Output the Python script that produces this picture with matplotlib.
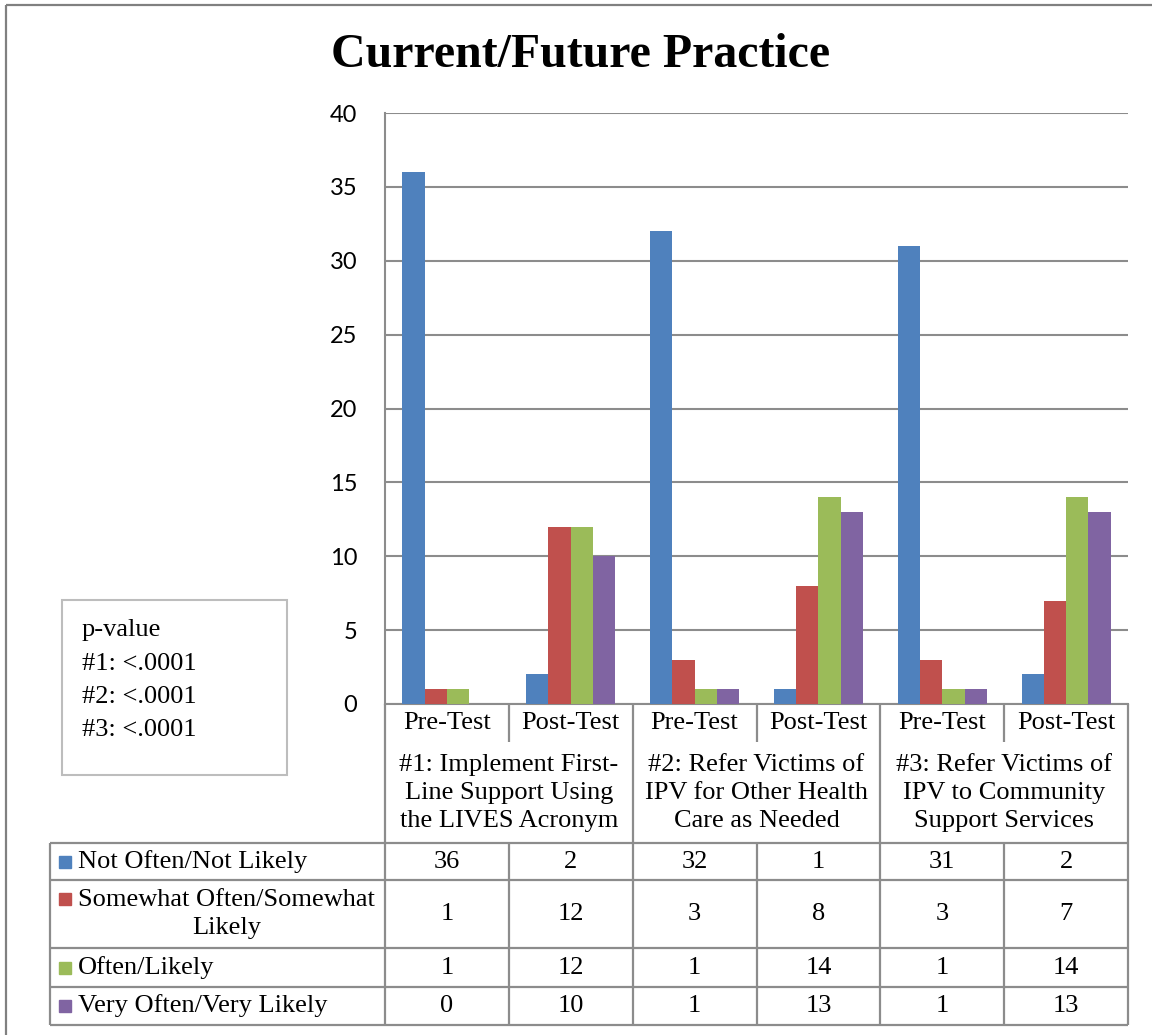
import numpy as np
import matplotlib
matplotlib.use('Agg')
import matplotlib.pyplot as plt
from matplotlib.patches import Rectangle

# data
tests = ['Pre-Test', 'Post-Test', 'Pre-Test', 'Post-Test', 'Pre-Test', 'Post-Test']
items = ['#1: Implement First-\nLine Support Using\nthe LIVES Acronym',
         '#2: Refer Victims of\nIPV for Other Health\nCare as Needed',
         '#3: Refer Victims of\nIPV to Community\nSupport Services']
series = ['Not Often/Not Likely', 'Somewhat Often/Somewhat\nLikely',
          'Often/Likely', 'Very Often/Very Likely']
not_often = [36, 2, 32, 1, 31, 2]
somewhat = [1, 12, 3, 8, 3, 7]
often = [1, 12, 1, 14, 1, 14]
very_often = [0, 10, 1, 13, 1, 13]
pvals = ['p-value', '#1: <.0001', '#2: <.0001', '#3: <.0001']

colors = ['#4F81BD', '#C0504D', '#9BBB59', '#8064A2']
grid_c = '#8c8c8c'
serif = ['Liberation Serif', 'DejaVu Serif']

W, H = 1152, 1035
fig = plt.figure(figsize=(W / 100, H / 100), dpi=100)

# pixel layout
x0, x1 = 385, 1128
y_top, y_bot = 113, 704
tab_left = 50
ax = fig.add_axes([x0 / W, 1 - y_bot / H, (x1 - x0) / W, (y_bot - y_top) / H])

vals = [not_often, somewhat, often, very_often]
n = len(tests)
x = np.arange(n)
bw = 0.18
for i, v in enumerate(vals):
    ax.bar(x + (i - 1.5) * bw, v, bw, color=colors[i], zorder=3)

ax.set_xlim(-0.5, n - 0.5)
ax.set_ylim(0, 40)
ax.set_yticks(np.arange(0, 41, 5))
ax.yaxis.grid(True, color=grid_c, linewidth=1.5, zorder=0)
ax.set_xticks([])
for s in ['top', 'right']:
    ax.spines[s].set_visible(False)
ax.spines['left'].set_color(grid_c)
ax.spines['bottom'].set_color(grid_c)
ax.spines['left'].set_linewidth(1.5)
ax.spines['bottom'].set_linewidth(1.5)
ax.tick_params(axis='y', length=0, pad=20, labelsize=17)
for lab in ax.get_yticklabels():
    lab.set_family(['Lato', 'DejaVu Sans'])

# overlay in pixel coords for the table
ov = fig.add_axes([0, 0, 1, 1])
ov.set_xlim(0, W)
ov.set_ylim(H, 0)
ov.axis('off')

col = (x1 - x0) / n
cols = [x0 + k * col for k in range(n + 1)]
row_tab = [843, 880, 948, 987, 1025]
lw = 1.6

def line(xa, ya, xb, yb, c=grid_c):
    ov.plot([xa, xb], [ya, yb], color=c, lw=lw, solid_capstyle='butt')

# figure border (top and left)
line(6, 5, W, 5, '#808080')
line(6, 5, 6, H, '#808080')

# header verticals
line(x0, y_bot, x0, row_tab[-1])
line(x1, y_bot, x1, row_tab[-1])
for k in [2, 4]:
    line(cols[k], y_bot, cols[k], row_tab[-1])
for k in [1, 3, 5]:
    line(cols[k], y_bot, cols[k], 742)
    line(cols[k], row_tab[0], cols[k], row_tab[-1])
# table horizontals
for y in row_tab:
    line(tab_left, y, x1, y)
line(tab_left, row_tab[0], tab_left, row_tab[-1])

fs = 19
for k in range(n):
    ov.text((cols[k] + cols[k + 1]) / 2, 723, tests[k], ha='center', va='center',
            fontsize=fs, family=serif)
for j in range(3):
    ov.text((cols[2 * j] + cols[2 * j + 2]) / 2, 793, items[j], ha='center', va='center',
            fontsize=fs, family=serif, linespacing=1.37)

for i in range(4):
    ya, yb = row_tab[i], row_tab[i + 1]
    yc = (ya + yb) / 2
    for k in range(n):
        ov.text((cols[k] + cols[k + 1]) / 2, yc, str(vals[i][k]), ha='center', va='center',
                fontsize=fs, family=serif)
    if '\n' in series[i]:
        ty = ya + 19
        ov.text(78, yc, series[i], ha='left', va='center', fontsize=fs, family=serif,
                multialignment='center', linespacing=1.4)
    else:
        ty = yc
        ov.text(78, yc, series[i], ha='left', va='center', fontsize=fs, family=serif)
    ov.add_patch(Rectangle((59, ty - 6), 12, 12, color=colors[i]))

# p-value box
ov.add_patch(Rectangle((62, 600), 225, 175, fill=False, edgecolor='#bdbdbd', lw=1.5))
for j, t in enumerate(pvals):
    ov.text(82, 630 + j * 33.5, t, ha='left', va='center', fontsize=fs, family=serif)

ov.text(581, 55, 'Current/Future Practice', ha='center', va='center', fontsize=34.5,
        fontweight='bold', family=serif)

fig.savefig('out.png', dpi=100)
